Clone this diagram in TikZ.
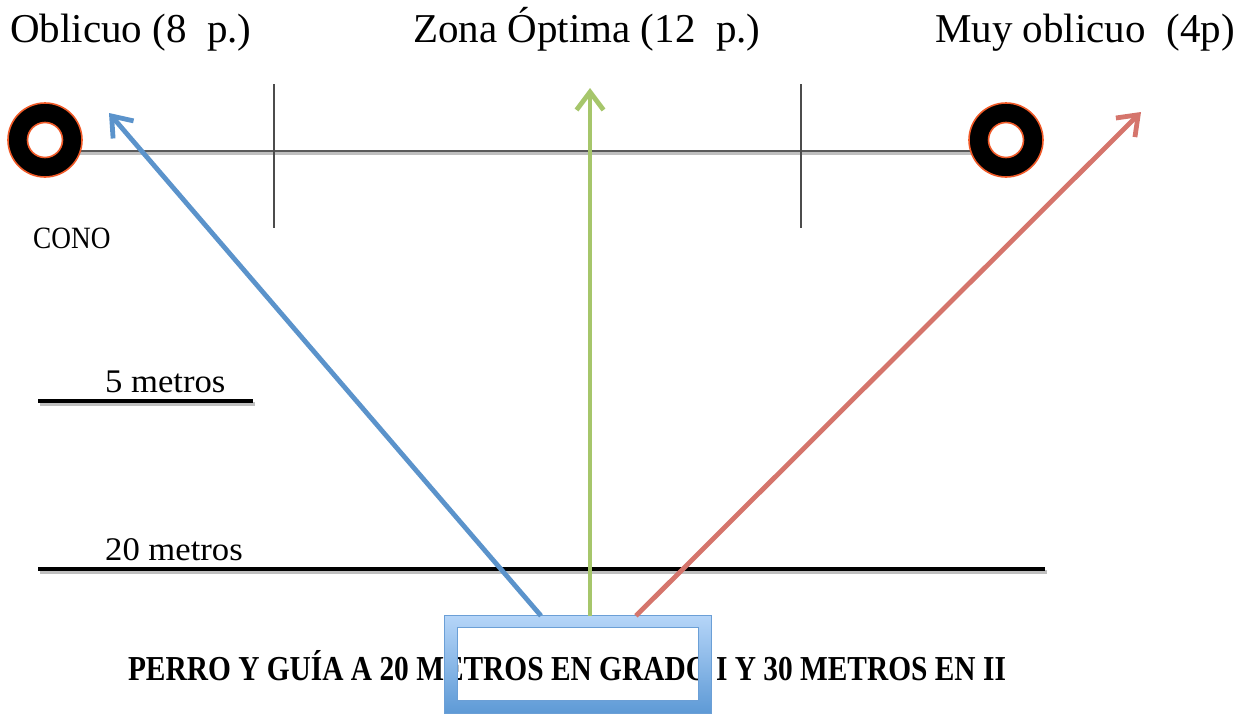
\documentclass[tikz,border=0pt]{standalone}
\usepackage{fontspec}
\setmainfont{Liberation Serif}
\newfontfamily\camfont[FakeStretch=0.88]{Liberation Serif}
\newfontfamily\camwide[FakeStretch=1.05]{Liberation Serif}
\newfontfamily\cambold[FakeStretch=0.84]{Liberation Serif Bold}
\usetikzlibrary{arrows.meta,calc}
\definecolor{ablue}{HTML}{5B93CB}
\definecolor{agreen}{HTML}{A6C66B}
\definecolor{ared}{HTML}{D5756C}
\definecolor{ringedge}{HTML}{F05A28}
\definecolor{boxtop}{HTML}{B5D5F8}
\definecolor{boxbot}{HTML}{5E9AD6}
\definecolor{boxedge}{HTML}{6B9FD6}
\tikzset{
  title/.style={anchor=base west, font=\fontsize{41}{48}\selectfont, inner sep=0pt},
  lab/.style={anchor=base west, inner sep=0pt},
  arr/.style={line width=4.8pt, -{Straight Barb[length=18pt,width=27pt,line width=4.8pt]}},
  ringout/.style={circle, minimum size=74pt, inner sep=0pt, fill=black, draw=ringedge, line width=1.6pt},
  ringin/.style={circle, minimum size=35pt, inner sep=0pt, fill=white, draw=ringedge, line width=1.6pt},
  tickline/.style={line width=2pt, draw=black!70},
  scaleline/.style={line width=4.5pt, draw=black},
  shadowline/.style={line width=4.5pt, draw=black!25},
}
\begin{document}
\begin{tikzpicture}[x=1pt,y=-1pt]
\useasboundingbox (0,0) rectangle (1243,715);
% titles
\node[title] (t1) at (10,42) {Oblicuo (8\ \ p.)};
\node[title] (t2) at (413,42) {Zona Óptima (12\ \ p.)};
\node[title] (t3) at (935,42) {Muy oblicuo\ \ (4p)};
% base line and ticks
\draw[line width=3pt, draw=black!25] (45,153) -- (1006,153);
\draw[line width=2.6pt, draw=black!65] (45,151) -- (1006,151);
\draw[tickline] (274,84) -- (274,228);
\draw[tickline] (801,84) -- (801,228);
% cones
\node[ringout] (c1) at (45,140) {};
\node[ringin] (c1i) at (c1) {};
\node[ringout] (c2) at (1006,140) {};
\node[ringin] (c2i) at (c2) {};
% labels
\node[lab, font=\camfont\fontsize{31}{36}\selectfont] (cono) at (33,248) {CONO};
\node[lab, font=\camwide\fontsize{33}{38}\selectfont] (m5) at (105,392) {5 metros};
\node[lab, font=\camwide\fontsize{33}{38}\selectfont] (m20) at (105,560) {20 metros};
\draw[shadowline] (40,404) -- (255,404);
\draw[scaleline] (38,401) -- (253,401);
\draw[shadowline] (40,572) -- (1047,572);
\draw[scaleline] (38,569) -- (1045,569);
% bottom text
\node[anchor=base, inner sep=0pt, font=\cambold\fontsize{35}{40}\selectfont] (bottom) at (567,680) {PERRO Y GUÍA A 20 METROS EN GRADO I Y 30 METROS EN II};
% box
\node[minimum width=266pt, minimum height=97pt, inner sep=0pt] (box) at (578,664.5) {};
\shade[top color=boxtop, bottom color=boxbot, even odd rule]
  (box.north west) rectangle (box.south east)
  ([shift={(13,12)}]box.north west) rectangle ([shift={(-13,-13)}]box.south east);
\draw[boxedge, line width=1pt] (box.north west) rectangle (box.south east);
\draw[boxedge, line width=1pt] ([shift={(13,12)}]box.north west) rectangle ([shift={(-13,-13)}]box.south east);
% arrows
\coordinate (tipB) at (109,113);
\coordinate (tipG) at (590,88);
\coordinate (tipR) at (1141,112);
\draw[arr, ablue] ([xshift=-37pt]box.north) -- (tipB);
\draw[arr, agreen] ([xshift=12pt]box.north) -- (tipG);
\draw[arr, ared] ([xshift=58pt]box.north) -- (tipR);
\end{tikzpicture}
\end{document}
